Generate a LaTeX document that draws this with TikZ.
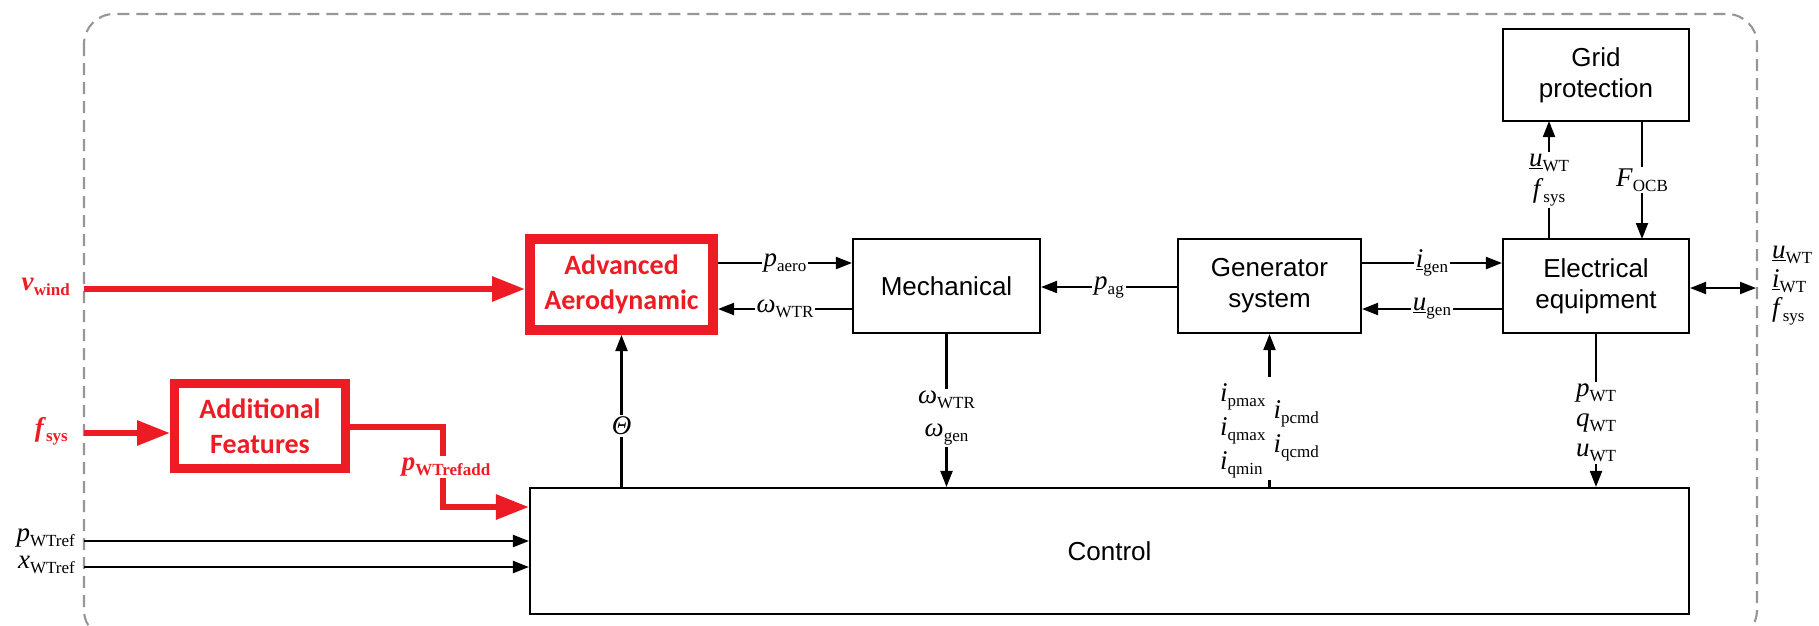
\documentclass[tikz,border=0pt]{standalone}
\usepackage{fontspec}
\setmainfont{Liberation Serif}
\newfontfamily\sansf{Liberation Sans}
\newfontfamily\calib{Carlito}
\usetikzlibrary{arrows.meta}
\definecolor{myred}{RGB}{237,28,36}
\definecolor{framegray}{RGB}{150,150,150}
\newcommand\sig[2]{\textit{#1}\raisebox{-5pt}{\fontsize{17}{19}\selectfont #2}}
\newcommand\usig[2]{\underline{\textit{#1}}\raisebox{-5pt}{\fontsize{17}{19}\selectfont #2}}
\tikzset{
  blk/.style={draw, line width=2.1pt, fill=white, font=\sansf\fontsize{26}{31}\selectfont, align=center, inner sep=0pt},
  redblk/.style={draw=myred, line width=10pt, fill=white, text=myred, font=\calib\bfseries\fontsize{28}{35}\selectfont, align=center, inner sep=0pt},
  conn/.style={line width=2.1pt, -{Triangle[length=16pt,width=12pt]}},
  dconn/.style={line width=2.1pt, {Triangle[length=16pt,width=12pt]}-{Triangle[length=16pt,width=12pt]}},
  rconn/.style={myred, line width=6pt, -{Triangle[length=33pt,width=24pt]}},
  lbl/.style={font=\fontsize{27}{31}\selectfont, fill=white, inner sep=2pt, align=center},
  rlbl/.style={font=\bfseries\fontsize{27}{31}\selectfont, text=myred, inner sep=2pt},
  plain/.style={font=\fontsize{27}{31}\selectfont, inner sep=0pt},
}
\begin{document}
\begin{tikzpicture}[x=1pt,y=-1pt]
\useasboundingbox (0,0) rectangle (1819,625);
\fill[white] (0,0) rectangle (1819,625);
% frame
\draw[framegray, line width=2.1pt, dash pattern=on 12pt off 7pt, rounded corners=30pt] (84,14) rectangle (1757,640);
% boxes
\node[redblk, minimum width=183pt, minimum height=91pt] (aero) at (621.5,284.5) {Advanced\\Aerodynamic};
\node[blk, minimum width=187pt, minimum height=94pt] (mech) at (946.5,286) {Mechanical};
\node[blk, minimum width=183pt, minimum height=94pt] (gen) at (1269.5,286) {Generator\\system};
\node[blk, minimum width=186pt, minimum height=94pt] (elec) at (1596,286) {Electrical\\equipment};
\node[blk, minimum width=186pt, minimum height=92pt] (grid) at (1596,75) {Grid\\protection};
\node[redblk, minimum width=171pt, minimum height=85pt, line width=9pt] (add) at (260,426) {Additional\\Features};
\node[blk, minimum width=1159pt, minimum height=126pt] (ctrl) at (1109.5,551) {Control};
% coordinates
\coordinate (vw) at (84,289);
\coordinate (fs) at (84,433);
\coordinate (pr) at (84,541);
\coordinate (xr) at (84,567);
\coordinate (ext) at (1756,288);
% top row connectors
\draw[conn] (aero.east |- 0,263) -- node[lbl]{\sig{p}{aero}} (mech.west |- 0,263);
\draw[conn] (mech.west |- 0,309) -- node[lbl]{\sig{ω}{WTR}} (aero.east |- 0,309);
\draw[conn] (gen.west |- 0,287) -- node[lbl]{\sig{p}{ag}} (mech.east |- 0,287);
\draw[conn] (gen.east |- 0,263) -- node[lbl]{\usig{i}{gen}} (elec.west |- 0,263);
\draw[conn] (elec.west |- 0,309) -- node[lbl]{\usig{u}{gen}} (gen.east |- 0,309);
\draw[dconn] (elec.east |- 0,288) -- (ext);
\node[plain, align=left, anchor=west, font=\fontsize{27}{29}\selectfont] (extl) at (1772,286) {\usig{u}{WT}\\\usig{i}{WT}\\\sig{f}{sys}};
% grid protection
\draw[conn] (1549,239) -- node[lbl, pos=0.5]{\usig{u}{WT}\\\sig{f}{sys}} (1549,121);
\draw[conn] (1642,121) -- node[lbl, pos=0.5]{\sig{F}{OCB}} (1642,239);
% vertical to/from control
\draw[conn] (aero.south |- ctrl.north) -- node[lbl, pos=0.4]{\textit{Θ}} (aero.south);
\draw[conn] (mech.south) -- node[lbl, pos=0.55]{\sig{ω}{WTR}\\[2pt]\sig{ω}{gen}} (mech.south |- ctrl.north);
\draw[conn] (gen.south |- ctrl.north) -- node[lbl, pos=0.38, inner xsep=4pt]{\begin{tabular}{@{}l@{\hspace{8pt}}l@{}}\sig{i}{pmax} & \\[-14pt] & \sig{i}{pcmd}\\[-14pt]\sig{i}{qmax} & \\[-14pt] & \sig{i}{qcmd}\\[-14pt]\sig{i}{qmin} & \end{tabular}} (gen.south);
\draw[conn] (elec.south) -- node[lbl, pos=0.58, font=\fontsize{27}{30}\selectfont]{\sig{p}{WT}\\\sig{q}{WT}\\\sig{u}{WT}} (elec.south |- ctrl.north);
% red inputs
\draw[rconn] (vw) -- (aero.west |- vw);
\node[rlbl, anchor=east] (vwl) at (72,287) {\sig{v}{wind}};
\draw[rconn] (fs) -- (add.west |- fs);
\node[rlbl, anchor=east] (fsl) at (70,431) {\sig{f}{sys}};
\coordinate (a1) at (443,427);
\coordinate (a2) at (443,507);
\draw[rconn] (add.east |- a1) -- (a1) -- (a2) -- (ctrl.west |- a2);
\node[rlbl, fill=white] (prl) at (446,467) {\sig{p}{WTrefadd}};
% black inputs
\draw[conn] (pr) -- (ctrl.west |- pr);
\draw[conn] (xr) -- (ctrl.west |- xr);
\node[plain, anchor=east] (prlbl) at (75,538) {\sig{p}{WTref}};
\node[plain, anchor=east] (xrlbl) at (75,565) {\sig{x}{WTref}};
\end{tikzpicture}
\end{document}
